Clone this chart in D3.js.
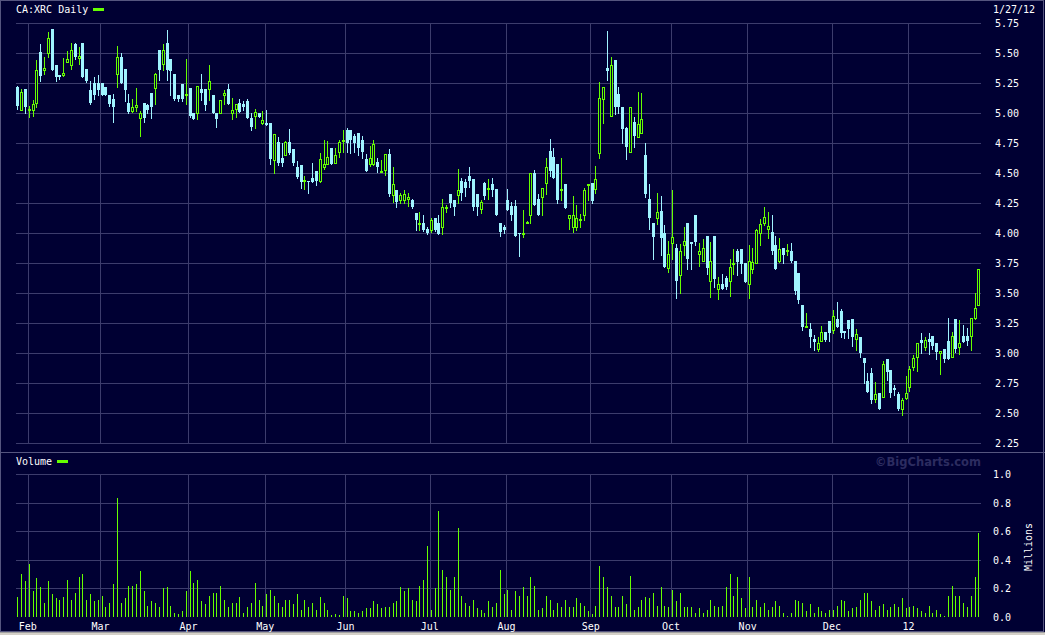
<!DOCTYPE html>
<html>
<head>
<meta charset="utf-8">
<script src="https://cdn.jsdelivr.net/npm/d3@7"></script>
<style>
  html, body { margin: 0; padding: 0; background: #d4d0c8; }
  svg { display: block; }
  text { font-family: "DejaVu Sans Mono", monospace; font-size: 10px; fill: #ffffff; }
</style>
</head>
<body>
<div id="drawing"></div>
<script>
// daily candles, Jan 27 2011 .. Jan 27 2012 (index 0..251)
var open = [
5.22,5.03,5.20,5.03,5.03,5.09,5.51,5.36,5.50,5.70,5.40,5.32,5.32,5.43,5.40,5.58,5.46,5.59,5.37,5.19,
5.25,5.25,5.25,5.22,5.15,5.12,5.33,5.47,5.37,5.09,5.02,5.05,4.96,5.09,5.07,5.17,5.21,5.53,5.41,5.59,
5.45,5.33,5.15,5.24,5.15,5.21,5.00,5.00,5.20,5.20,5.20,5.15,5.00,5.00,5.15,5.20,5.00,5.04,5.09,5.08,
5.10,4.96,4.98,5.00,4.92,4.92,4.92,4.61,4.76,4.63,4.65,4.76,4.70,4.55,4.57,4.44,4.44,4.46,4.52,4.44,
4.55,4.58,4.71,4.59,4.68,4.775,4.86,4.86,4.81,4.84,4.78,4.62,4.575,4.58,4.595,4.51,4.53,4.66,4.32,4.36,
4.28,4.28,4.29,4.28,4.17,4.08,4.09,4.04,4.03,4.13,4.09,4.055,4.215,4.33,4.28,4.32,4.44,4.43,4.475,4.45,
4.33,4.20,4.42,4.37,4.41,4.37,4.09,4.05,4.28,4.23,4.23,4.00,4.00,4.09,4.15,4.505,4.29,4.30,4.42,4.685,
4.64,4.58,4.365,4.41,4.125,4.055,4.055,4.115,4.15,4.40,4.42,4.37,4.67,5.12,5.375,4.98,5.44,5.16,5.05,4.875,
4.675,4.925,4.80,4.84,4.65,4.29,4.09,4.13,4.185,4.00,3.71,3.917,3.875,3.65,3.90,4.083,3.925,4.15,3.83,3.77,
3.975,3.60,3.975,3.54,3.575,3.63,3.60,3.745,3.855,3.87,3.75,3.575,3.70,3.755,4.005,4.085,4.04,4.01,3.90,3.77,
3.875,3.85,3.855,3.77,3.672,3.403,3.22,3.203,3.12,3.036,3.106,3.175,3.27,3.194,3.283,3.353,3.189,3.278,3.286,3.117,
3.139,2.958,2.769,2.833,2.617,2.672,2.639,2.95,2.858,2.711,2.661,2.539,2.625,2.717,2.889,2.972,3.111,3.056,3.117,3.144,
3.083,3.00,3.033,3.103,2.972,3.286,3.056,3.144,3.144,3.144,3.292,3.40
];
var high = [
5.23,5.20,5.20,5.06,5.11,5.44,5.58,5.47,5.68,5.70,5.40,5.32,5.46,5.52,5.59,5.59,5.55,5.59,5.37,5.27,
5.30,5.32,5.25,5.22,5.15,5.16,5.56,5.50,5.37,5.16,5.12,5.21,5.02,5.09,5.08,5.17,5.34,5.53,5.58,5.69,
5.45,5.33,5.15,5.24,5.45,5.21,5.00,5.23,5.33,5.20,5.40,5.15,5.00,5.11,5.19,5.24,5.13,5.08,5.12,5.10,
5.12,5.00,5.04,5.00,5.02,5.03,4.92,4.83,4.80,4.75,4.77,4.87,4.70,4.60,4.57,4.48,4.44,4.59,4.52,4.67,
4.78,4.77,4.71,4.71,4.78,4.86,4.88,4.86,4.83,4.84,4.81,4.66,4.73,4.78,4.625,4.61,4.66,4.70,4.55,4.36,
4.34,4.36,4.34,4.29,4.17,4.18,4.15,4.055,4.125,4.13,4.15,4.29,4.235,4.33,4.28,4.54,4.46,4.45,4.55,4.45,
4.33,4.28,4.43,4.45,4.46,4.37,4.09,4.07,4.37,4.26,4.28,4.00,4.19,4.10,4.50,4.53,4.33,4.38,4.625,4.785,
4.71,4.58,4.625,4.41,4.15,4.31,4.24,4.165,4.38,4.41,4.42,4.56,5.26,5.22,5.685,5.47,5.44,5.22,5.05,4.89,
5.05,4.97,5.18,5.17,4.75,4.41,4.09,4.34,4.31,4.07,3.94,4.36,3.91,3.91,4.055,4.083,3.925,4.15,3.92,3.95,
3.975,3.925,3.975,3.635,3.665,3.645,3.79,3.865,3.87,3.87,3.75,3.90,3.875,4.04,4.12,4.22,4.18,4.15,3.975,3.96,
3.875,3.91,3.92,3.77,3.672,3.403,3.34,3.25,3.153,3.139,3.228,3.175,3.27,3.361,3.43,3.369,3.189,3.278,3.286,3.203,
3.139,2.958,2.833,2.875,2.758,2.672,2.936,2.95,2.858,2.736,2.681,2.625,2.811,2.894,2.986,3.083,3.167,3.133,3.172,3.144,
3.083,3.019,3.033,3.297,3.181,3.286,3.278,3.236,3.208,3.292,3.50,3.70
];
var low = [
5.04,5.03,5.00,4.97,4.98,5.05,5.27,5.33,5.47,5.36,5.27,5.29,5.31,5.43,5.37,5.45,5.41,5.30,5.26,5.08,
5.12,5.15,5.15,5.15,5.06,4.93,5.22,5.25,5.10,5.00,5.01,5.02,4.81,4.93,5.00,4.96,5.08,5.28,5.36,5.28,
5.15,5.11,5.10,5.10,5.08,4.97,4.95,4.95,5.11,5.03,5.11,5.00,4.89,5.00,5.08,5.08,4.95,4.97,5.01,5.03,
4.96,4.86,4.88,4.97,4.91,4.905,4.575,4.50,4.57,4.56,4.65,4.66,4.57,4.46,4.38,4.37,4.34,4.43,4.40,4.43,
4.54,4.58,4.58,4.59,4.64,4.68,4.68,4.67,4.68,4.65,4.63,4.52,4.56,4.57,4.51,4.51,4.49,4.31,4.26,4.22,
4.25,4.25,4.23,4.21,4.03,4.03,4.02,3.99,4.01,4.02,3.99,3.99,4.18,4.22,4.15,4.25,4.28,4.31,4.39,4.19,
4.15,4.17,4.29,4.29,4.31,4.15,3.98,4.00,4.19,4.11,3.98,3.81,3.97,4.09,4.09,4.235,4.15,4.15,4.33,4.48,
4.46,4.255,4.28,4.21,4.04,4.01,4.03,4.055,4.11,4.28,4.25,4.34,4.63,4.92,5.28,4.98,4.995,5.005,4.755,4.62,
4.675,4.72,4.80,4.84,4.305,4.035,3.79,4.08,3.82,3.72,3.68,3.79,3.46,3.50,3.82,3.705,3.70,3.90,3.73,3.77,
3.66,3.47,3.555,3.45,3.535,3.54,3.48,3.665,3.65,3.67,3.595,3.46,3.67,3.755,3.90,4.07,3.96,3.83,3.705,3.76,
3.755,3.82,3.76,3.495,3.422,3.195,3.22,3.055,3.028,3.022,3.106,3.106,3.106,3.172,3.217,3.139,3.125,3.125,3.061,3.028,
2.972,2.756,2.675,2.583,2.597,2.533,2.633,2.778,2.639,2.653,2.528,2.483,2.617,2.689,2.861,2.856,3.006,3.028,2.994,3.036,
2.956,2.828,2.925,2.956,2.972,3.014,2.994,3.097,3.069,3.028,3.283,3.40
];
var close = [
5.06,5.175,5.05,5.035,5.08,5.36,5.31,5.38,5.63,5.36,5.30,5.30,5.34,5.45,5.53,5.47,5.48,5.30,5.27,5.09,
5.15,5.19,5.15,5.15,5.08,5.05,5.47,5.25,5.19,5.01,5.05,5.07,5.00,4.96,5.03,5.05,5.33,5.36,5.53,5.36,
5.35,5.12,5.12,5.12,5.16,4.98,4.95,5.23,5.17,5.07,5.27,5.00,4.95,5.11,5.17,5.08,5.03,5.08,5.01,5.05,
4.96,4.89,5.01,4.97,4.94,4.905,4.62,4.83,4.59,4.59,4.76,4.67,4.59,4.47,4.43,4.445,4.43,4.43,4.44,4.62,
4.58,4.64,4.58,4.65,4.76,4.78,4.755,4.78,4.75,4.71,4.68,4.52,4.63,4.74,4.55,4.52,4.66,4.33,4.41,4.26,
4.32,4.33,4.30,4.22,4.11,4.085,4.03,4.005,4.11,4.03,3.99,4.22,4.22,4.25,4.22,4.36,4.34,4.38,4.44,4.22,
4.22,4.26,4.31,4.38,4.36,4.15,4.01,4.03,4.19,4.15,3.98,3.99,4.005,4.095,4.50,4.235,4.15,4.38,4.55,4.52,
4.46,4.28,4.37,4.21,4.15,4.15,4.125,4.12,4.36,4.41,4.27,4.45,5.13,5.22,5.355,5.40,5.055,5.05,4.87,4.72,
5.05,4.81,4.91,4.95,4.325,4.13,3.97,4.18,3.96,3.72,3.83,3.97,3.605,3.855,3.935,3.79,3.91,3.93,3.85,3.88,
3.71,3.77,3.62,3.575,3.54,3.555,3.72,3.75,3.76,3.745,3.595,3.77,3.76,4.025,4.075,4.135,4.06,3.855,3.705,3.87,
3.82,3.86,3.77,3.522,3.444,3.217,3.225,3.133,3.097,3.083,3.175,3.111,3.172,3.311,3.217,3.167,3.172,3.203,3.133,3.158,
3.006,2.917,2.675,2.611,2.664,2.533,2.911,2.847,2.672,2.694,2.539,2.611,2.667,2.867,2.958,3.083,3.083,3.111,3.092,3.064,
3.014,3.019,2.95,2.956,3.144,3.033,3.083,3.097,3.106,3.292,3.375,3.70
];
// volume, millions
var volume = [
0.14,0.30,0.25,0.37,0.18,0.27,0.21,0.10,0.25,0.16,0.13,0.12,0.14,0.26,0.12,0.17,0.28,0.30,0.12,0.16,
0.11,0.12,0.15,0.07,0.10,0.23,0.83,0.10,0.13,0.22,0.22,0.23,0.32,0.18,0.08,0.11,0.10,0.07,0.20,0.21,
0.08,0.026,0.02,0.04,0.18,0.32,0.24,0.26,0.11,0.09,0.15,0.17,0.17,0.22,0.12,0.07,0.10,0.10,0.14,0.03,
0.07,0.10,0.24,0.12,0.08,0.16,0.19,0.15,0.10,0.07,0.12,0.12,0.09,0.16,0.05,0.12,0.07,0.10,0.05,0.14,
0.10,0.05,0.014,0.02,0.014,0.15,0.13,0.04,0.04,0.03,0.04,0.06,0.06,0.11,0.09,0.06,0.07,0.07,0.10,0.11,
0.21,0.18,0.20,0.12,0.11,0.22,0.26,0.50,0.05,0.20,0.74,0.33,0.28,0.19,0.28,0.62,0.15,0.10,0.08,0.12,
0.06,0.05,0.026,0.11,0.07,0.10,0.33,0.16,0.19,0.05,0.18,0.15,
0.21,0.15,0.28,0.22,0.05,0.06,0.15,0.12,0.05,0.10,0.07,0.12,0.07,0.07,0.13,0.10,0.08,0.04,0.02,0.08,
0.36,0.28,0.21,0.15,0.07,0.07,0.15,0.09,0.29,0.05,0.07,0.12,0.14,0.13,0.17,0.08,0.21,0.08,0.07,0.19,
0.11,0.17,0.07,0.07,0.07,0.03,0.06,0.03,0.05,0.12,0.08,0.07,0.08,0.21,0.30,0.15,0.28,0.13,0.06,0.28,
0.07,0.12,0.07,0.10,0.05,0.07,0.11,0.08,0.026,0.005,0.03,0.12,0.11,0.10,0.04,0.09,0.026,0.07,0.04,0.026,
0.05,0.05,0.08,0.12,0.11,0.04,0.06,0.07,0.12,0.17,0.17,0.11,0.05,0.08,0.09,0.05,0.07,0.09,0.07,0.13,
0.06,0.07,0.08,0.06,0.04,0.03,0.08,0.03,0.05,0.02,0.005,0.15,0.22,0.15,0.15,0.10,0.07,0.15,0.28,0.59
];
var monthLabels = ["Feb","Mar","Apr","May","Jun","Jul","Aug","Sep","Oct","Nov","Dec","12"];
var monthIdx = [3,22,45,65,86,108,128,150,171,191,213,233];
var priceTicks = [2.25,2.50,2.75,3.00,3.25,3.50,3.75,4.00,4.25,4.50,4.75,5.00,5.25,5.50,5.75];
var volTicks = [0,0.2,0.4,0.6,0.8,1.0];

var W = 1045, H = 635;
var bg = "#000033", grid = "#3c3c6c", green = "#66ff00", cyan = "#a0f4ff";

var svg = d3.select("#drawing").append("svg")
  .attr("width", W).attr("height", H)
  .attr("shape-rendering", "crispEdges");

svg.append("rect").attr("x", 0).attr("y", 0).attr("width", W).attr("height", 632).attr("fill", bg);

var x = d3.scaleLinear().domain([0, 251]).range([17.3, 978.4]);
var y = d3.scaleLinear().domain([2.25, 5.75]).range([443.3, 23.3]);
var yv = d3.scaleLinear().domain([0, 1]).range([617, 474]);
var px = function(v) { return Math.round(v) + 0.5; };

// price grid
svg.append("g").selectAll("line").data(priceTicks).join("line")
  .attr("x1", 16).attr("x2", 981)
  .attr("y1", function(d) { return px(y(d)); }).attr("y2", function(d) { return px(y(d)); })
  .attr("stroke", grid);
svg.append("g").selectAll("line").data(monthIdx).join("line")
  .attr("x1", function(d) { return px(x(d) - 1.2); }).attr("x2", function(d) { return px(x(d) - 1.2); })
  .attr("y1", y(5.75)).attr("y2", y(2.25))
  .attr("stroke", grid);

// volume grid
svg.append("g").selectAll("line").data(volTicks.slice(1)).join("line")
  .attr("x1", 16).attr("x2", 981)
  .attr("y1", function(d) { return px(yv(d)); }).attr("y2", function(d) { return px(yv(d)); })
  .attr("stroke", grid);
svg.append("g").selectAll("line").data(monthIdx).join("line")
  .attr("x1", function(d) { return px(x(d) - 1.2); }).attr("x2", function(d) { return px(x(d) - 1.2); })
  .attr("y1", yv(1)).attr("y2", yv(0))
  .attr("stroke", grid);

// frame + panel separator
svg.append("rect").attr("x", 0.5).attr("y", 0.5).attr("width", W - 2).attr("height", 631)
  .attr("fill", "none").attr("stroke", "#55557f");
svg.append("line").attr("x1", 0).attr("x2", W).attr("y1", 452.5).attr("y2", 452.5).attr("stroke", "#55557f");
svg.append("line").attr("x1", 0).attr("x2", W).attr("y1", 632.5).attr("y2", 632.5).attr("stroke", "#a0a0a0");

// candles
var idx = d3.range(open.length);
var candles = svg.append("g").selectAll("g").data(idx).join("g");
candles.append("line")
  .attr("x1", function(i) { return px(x(i)); }).attr("x2", function(i) { return px(x(i)); })
  .attr("y1", function(i) { return Math.round(y(Math.max(high[i], open[i], close[i]))); })
  .attr("y2", function(i) { return Math.round(y(Math.min(low[i], open[i], close[i]))) + 1; })
  .attr("stroke", function(i) { return close[i] >= open[i] ? green : cyan; });
candles.append("rect")
  .attr("x", function(i) { return close[i] >= open[i] ? Math.round(x(i)) - 1 + 0.5 : Math.round(x(i)) - 1; })
  .attr("y", function(i) {
    var t = Math.round(y(Math.max(open[i], close[i])));
    return close[i] >= open[i] ? t + 0.5 : t;
  })
  .attr("width", function(i) { return close[i] >= open[i] ? 2 : 3; })
  .attr("height", function(i) {
    var h = Math.round(y(Math.min(open[i], close[i]))) - Math.round(y(Math.max(open[i], close[i])));
    return close[i] >= open[i] ? Math.max(h, 1) : Math.max(h, 1);
  })
  .attr("fill", function(i) { return close[i] >= open[i] ? bg : cyan; })
  .attr("stroke", function(i) { return close[i] >= open[i] ? green : "none"; });

// volume bars
svg.append("g").selectAll("line").data(idx).join("line")
  .attr("x1", function(i) { return px(x(i)); }).attr("x2", function(i) { return px(x(i)); })
  .attr("y1", function(i) { return Math.round(yv(volume[i])); }).attr("y2", yv(0))
  .attr("stroke", green);

// labels
svg.append("text").attr("x", 16).attr("y", 13).text("CA:XRC Daily");
svg.append("rect").attr("x", 93).attr("y", 8).attr("width", 11).attr("height", 3).attr("fill", green);
svg.append("text").attr("x", 993).attr("y", 13).text("1/27/12");

svg.append("g").selectAll("text").data(priceTicks).join("text")
  .attr("x", 995).attr("y", function(d) { return y(d) + 4; })
  .text(function(d) { return d3.format(".2f")(d); });

svg.append("text").attr("x", 16).attr("y", 465).text("Volume");
svg.append("rect").attr("x", 57).attr("y", 460).attr("width", 11).attr("height", 3).attr("fill", green);
svg.append("text").attr("x", 981).attr("y", 466).attr("text-anchor", "end")
  .style("font-family", "'DejaVu Sans', sans-serif").style("font-weight", "bold").style("font-size", "11.5px")
  .style("fill", "#2c2c60").text("\u00a9BigCharts.com");

svg.append("g").selectAll("text").data(volTicks).join("text")
  .attr("x", 993).attr("y", function(d) { return yv(d) + 4; })
  .text(function(d) { return d3.format(".1f")(d); });
svg.append("text").attr("transform", "translate(1032,547) rotate(-90)")
  .attr("text-anchor", "middle").text("Millions");

svg.append("g").selectAll("text").data(monthIdx).join("text")
  .attr("x", function(d) { return x(d) - 1; }).attr("y", 630)
  .attr("text-anchor", "middle")
  .text(function(d, k) { return monthLabels[k]; });
</script>
</body>
</html>
